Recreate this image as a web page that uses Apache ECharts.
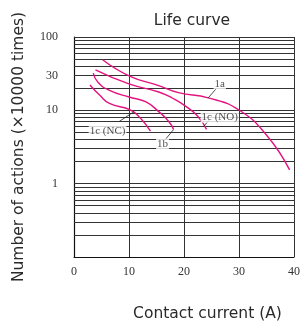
<!DOCTYPE html>
<html>
<head>
<meta charset="UTF-8">
<title>Life curve</title>
<script src="https://cdn.jsdelivr.net/npm/echarts@6/dist/echarts.min.js"></script>
<style>
  body { margin: 0; background: #fff; }
  #chart { width: 303px; height: 327px; }
</style>
</head>
<body>
<div id="chart"></div>
<script>
// life curves: [contact current (A), number of actions (x10000)]
const curve1a = [[5.2, 49], [10, 29.6], [15.4, 21.7], [19, 17.4], [24.4, 14.8], [30, 10.1], [35.1, 4.5], [39.2, 1.54]];
const curve1cNO = [[3.9, 35.6], [10, 22.9], [15.4, 17.8], [18, 14.5], [20.2, 11.5], [22.5, 8.3], [24.1, 5.5]];
const curve1b = [[3.5, 32.1], [4.35, 24.1], [6.45, 18.7], [10, 15.2], [13, 13.1], [15.4, 9.6], [17.2, 7.1], [18.1, 5.5]];
const curve1cNC = [[2.9, 22.2], [4.7, 16], [6.45, 12.4], [10.3, 10.1], [12.1, 7.8], [13.9, 5.2]];

// horizontal grid values (log paper)
const gridValues = [0.2, 0.3, 0.4, 0.5, 0.6, 0.7, 0.8, 0.9, 1, 2, 3, 4, 5, 6, 7, 8, 9, 10, 20, 30, 40, 50, 60, 70, 80, 90, 100];
const yLabels = [1, 10, 30, 100];

// curve labels and their leader lines
const labelNames = ['1a', '1c (NO)', '1c (NC)', '1b'];
const labelPoints = [[26.5, 22.9], [26.5, 8.07], [6.1, 5.25], [16.1, 3.47]];
const leaders = [
  [[24.4, 14.8], [26, 20.3]],
  [[23.5, 5.93], [24.55, 7.36]],
  [[8.24, 7.06], [10.93, 9.6]],
  [[16.6, 4.0], [18.1, 5.46]]
];

const chart = echarts.init(document.getElementById('chart'));
const pink = '#e4137f';
const serif = '"Liberation Serif", "DejaVu Serif", serif';
const sans = '"DejaVu Sans", sans-serif';

function curve(data) {
  return {
    type: 'line', data: data, smooth: true, showSymbol: false, z: 5,
    lineStyle: { color: pink, width: 1.4 }
  };
}

const series = [
  {
    type: 'line', data: [], z: 1, silent: true,
    markLine: {
      silent: true, symbol: 'none', animation: false,
      label: { show: false },
      lineStyle: { color: '#333', width: 1, type: 'solid' },
      data: gridValues.map(v => ({ yAxis: v }))
    }
  },
  curve(curve1a), curve(curve1cNO), curve(curve1b), curve(curve1cNC)
];

leaders.forEach(seg => {
  series.push({
    type: 'line', data: seg, showSymbol: false, z: 6,
    lineStyle: { color: '#222', width: 0.8 }
  });
});

series.push({
  type: 'scatter', z: 8, symbolSize: 0,
  data: labelPoints.map((p, i) => ({ value: p, name: labelNames[i] })),
  label: {
    show: true, position: 'inside', formatter: '{b}',
    fontFamily: serif, fontSize: 11, color: '#222',
    backgroundColor: '#fff', padding: [0, 1]
  }
});

chart.setOption({
  animation: false,
  title: {
    text: 'Life curve', left: 187, top: 8, textAlign: 'center',
    textStyle: { fontFamily: sans, fontSize: 15.5, fontWeight: 'normal', color: '#2a2a2a' }
  },
  grid: { left: 74, right: 6, top: 37, bottom: 65 },
  xAxis: {
    type: 'value', min: 0, max: 40, interval: 10,
    name: 'Contact current (A)', nameLocation: 'middle', nameGap: 49,
    nameTextStyle: { fontFamily: sans, fontSize: 15.5, color: '#2a2a2a', padding: [0, 0, 0, 47] },
    axisLine: { lineStyle: { color: '#111', width: 1.2 } },
    axisTick: { show: false },
    axisLabel: { fontFamily: serif, fontSize: 12, color: '#333', margin: 9 },
    splitLine: { show: true, lineStyle: { color: '#333', width: 1 } }
  },
  yAxis: {
    type: 'log', logBase: 10, min: 0.1, max: 100,
    name: 'Number of actions (×10000 times)', nameLocation: 'middle', nameGap: 47,
    nameTextStyle: { fontFamily: sans, fontSize: 15.5, color: '#2a2a2a' },
    axisLine: { show: true, lineStyle: { color: '#111', width: 1.2 } },
    axisTick: { show: false },
    axisLabel: { customValues: yLabels, fontFamily: serif, fontSize: 12, color: '#333', margin: 16 },
    splitLine: { show: false }
  },
  series: series
});
</script>
</body>
</html>
